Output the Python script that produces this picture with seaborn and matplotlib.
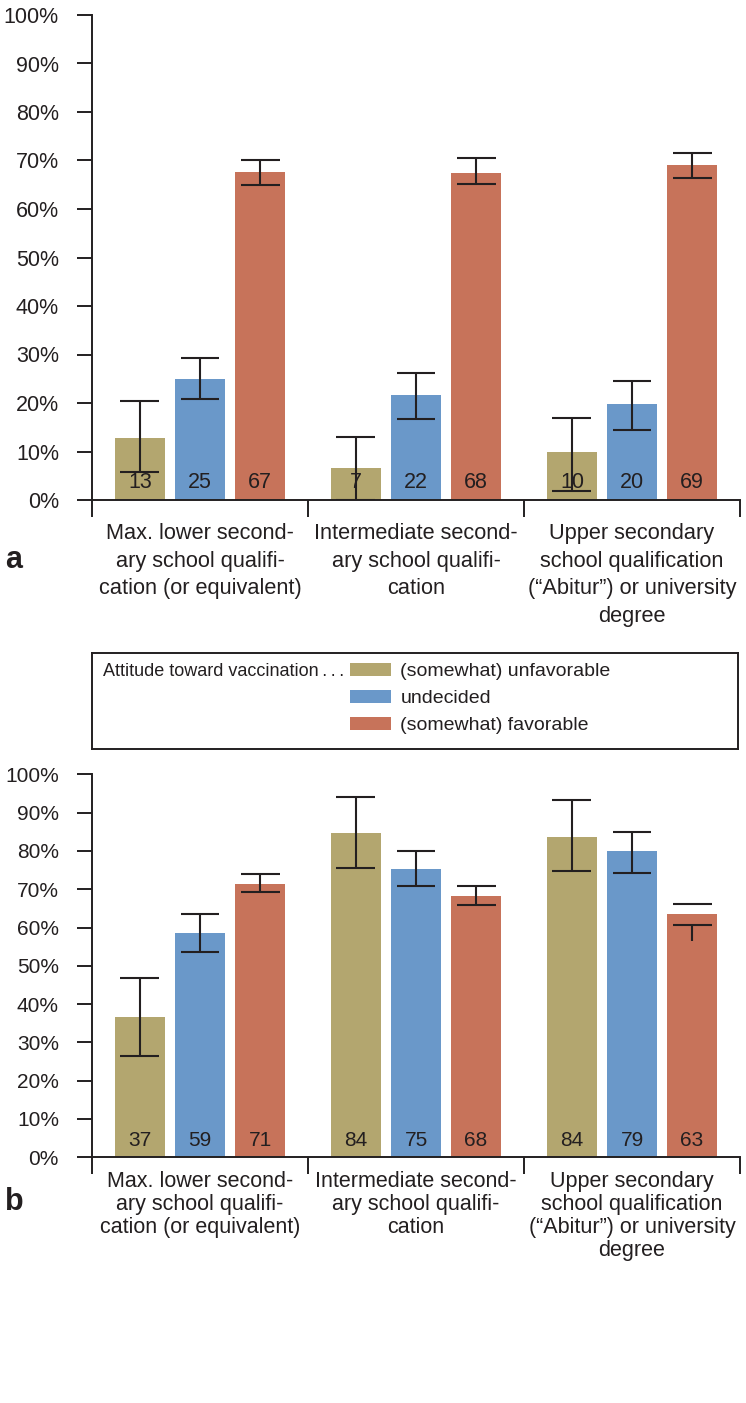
import pandas as pd
import matplotlib.pyplot as plt
import seaborn as sns

# data
education = ['lower', 'intermediate', 'upper']
edu_labels = ['Max. lower second-\nary school qualifi-\ncation (or equivalent)',
              'Intermediate second-\nary school qualifi-\ncation',
              'Upper secondary\nschool qualification\n(\u201cAbitur\u201d) or university\ndegree']
attitudes = ['(somewhat) unfavorable', 'undecided', '(somewhat) favorable']
colors = ['#B3A66F', '#6A98C9', '#C7735A']

# panel a: rows = education, cols = attitude
a_pct = [[12.8, 24.9, 67.6], [6.7, 21.6, 67.5], [9.8, 19.8, 69.1]]
a_lo = [[5.8, 20.8, 64.9], [0.0, 16.6, 65.1], [1.9, 14.4, 66.4]]
a_hi = [[20.5, 29.2, 70.0], [12.9, 26.1, 70.5], [16.9, 24.6, 71.5]]
a_lab = [[13, 25, 67], [7, 22, 68], [10, 20, 69]]

# panel b
b_pct = [[36.6, 58.6, 71.4], [84.8, 75.4, 68.3], [83.6, 80.0, 63.4]]
b_lo = [[26.4, 53.6, 69.2], [75.5, 70.9, 65.9], [74.8, 74.2, 60.7]]
b_hi = [[46.9, 63.5, 74.0], [94.0, 80.0, 70.9], [93.2, 85.0, 66.2]]
b_lab = [[37, 59, 71], [84, 75, 68], [84, 79, 63]]
# the odd stem in the original (upper secondary, favorable)
b_stem_fix = {(2, 2): (56.5, 60.7)}

sns.set_style('ticks')
plt.rcParams['font.family'] = 'Liberation Sans'
INK = '#231F20'
plt.rcParams['axes.edgecolor'] = INK
plt.rcParams['xtick.color'] = INK
plt.rcParams['ytick.color'] = INK
plt.rcParams['text.color'] = INK


def long_df(pct):
    rows = []
    for i, e in enumerate(education):
        for j, a in enumerate(attitudes):
            rows.append({'edu': e, 'attitude': a, 'pct': pct[i][j]})
    return pd.DataFrame(rows)


def panel(ax, pct, lo, hi, lab, size, xl_size, xl_pad, lspace, lab_y, stem_fix=None, legend=False):
    df = long_df(pct)
    sns.barplot(data=df, x='edu', y='pct', hue='attitude', hue_order=attitudes,
                palette=colors, errorbar=None, width=0.835, gap=0.17,
                saturation=1, linewidth=0, legend=legend, ax=ax)
    bars = sorted([p for p in ax.patches if p.get_height() > 0],
                  key=lambda p: p.get_x())
    stem_fix = stem_fix or {}
    for n, p in enumerate(bars):
        i, j = divmod(n, 3)
        x = p.get_x() + p.get_width() / 2
        ax.hlines([lo[i][j], hi[i][j]], x - 0.09, x + 0.09, color=INK, lw=1.5, zorder=4)
        s0, s1 = stem_fix.get((i, j), (lo[i][j], hi[i][j]))
        ax.vlines(x, s0, s1, color=INK, lw=1.5, zorder=4)
        ax.text(x, lab_y, str(lab[i][j]), ha='center', va='baseline',
                fontsize=size, zorder=3)
    ax.set_xlim(-0.5, 2.5)
    ax.set_ylim(0, 100)
    ax.set_yticks(range(0, 101, 10))
    ax.set_yticklabels([f'{v}%' for v in range(0, 101, 10)], fontsize=size)
    ax.set_xticks([-0.5, 0.5, 1.5, 2.5])
    ax.set_xticklabels([])
    ax.set_xticks([0, 1, 2], edu_labels, minor=True, fontsize=xl_size,
                  linespacing=lspace, ha='center', va='top')
    ax.tick_params(axis='y', length=10.8, width=1.4, pad=13)
    ax.tick_params(axis='x', which='major', length=12.2, width=1.4)
    ax.tick_params(axis='x', which='minor', length=0, pad=xl_pad)
    ax.set_xlabel('')
    ax.set_ylabel('')
    for side in ['top', 'right']:
        ax.spines[side].set_visible(False)
    for side in ['left', 'bottom']:
        ax.spines[side].set_linewidth(1.4)


W, H = 746, 1403
fig = plt.figure(figsize=(W / 100, H / 100), dpi=100)

ax_a = fig.add_axes([92 / W, 1 - 500 / H, 648 / W, 485 / H])
panel(ax_a, a_pct, a_lo, a_hi, a_lab, 15.5, 15.7, 16.5, 1.42, 2.4, legend=True)
handles, labels = ax_a.get_legend_handles_labels()
ax_a.get_legend().remove()

ax_b = fig.add_axes([92 / W, 1 - 1157.3 / H, 648 / W, 383 / H])
panel(ax_b, b_pct, b_lo, b_hi, b_lab, 15, 15.5, 10, 1.12, 2.95, stem_fix=b_stem_fix)

# legend box between panels
leg_ax = fig.add_axes([92 / W, 1 - 749 / H, 646 / W, 96 / H])
leg_ax.set_xticks([])
leg_ax.set_yticks([])
for s in leg_ax.spines.values():
    s.set_visible(True)
    s.set_linewidth(1.4)
    s.set_color(INK)
leg_ax.text(11 / 646, 1 - 18 / 96, 'Attitude toward vaccination\u2009.\u2009.\u2009.', va='center', ha='left',
            fontsize=13, transform=leg_ax.transAxes)
leg_ax.legend(handles, labels, loc='upper left', bbox_to_anchor=(258 / 646, 0.896),
              frameon=False, borderpad=0, borderaxespad=0, handlelength=2.09,
              handleheight=0.65, handletextpad=0.5, labelspacing=0.5,
              prop={'size': 14})

fig.text(5 / W, 1 - 568 / H, 'a', fontsize=22, fontweight='bold', ha='left', va='baseline')
fig.text(5 / W, 1 - 1210 / H, 'b', fontsize=22, fontweight='bold', ha='left', va='baseline')

fig.savefig('out.png', dpi=100)
